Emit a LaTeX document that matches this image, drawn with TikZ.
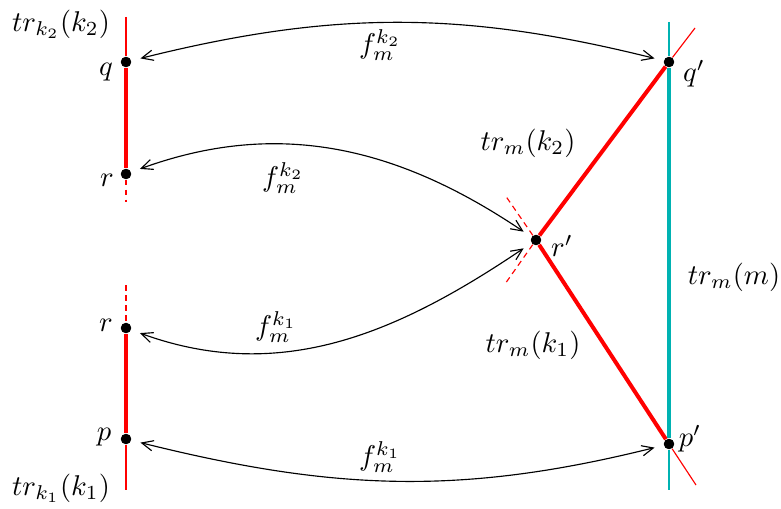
\documentclass[tikz,border=0pt]{standalone}
\usepackage{amsmath,amssymb}
\usepackage{tikz}
\usetikzlibrary{arrows.meta}
\usepackage{xcolor}

\definecolor{trcyan}{RGB}{0,178,178}

\begin{document}
\begin{tikzpicture}[x=0.35pt,y=0.35pt,>={Straight Barb[length=4pt,width=3.6pt]},
		dot/.style={circle,fill=black,inner sep=0pt,minimum size=3.6pt},
		lbl/.style={inner sep=0pt},
		thinred/.style={red,line width=0.4pt},
		thickred/.style={red,line width=1.4pt},
		dashred/.style={red,line width=0.4pt,dash pattern=on 2pt off 1.5pt},
		map/.style={<->,shorten <=3.2pt,shorten >=3.2pt}]
		
		\useasboundingbox (0,0) rectangle (781,508);
		
		% Points
		\node[dot] (q) at (126,446) {};
		\node[dot] (rtop) at (126,334) {};
		\node[dot] (rbot) at (126,180) {};
		\node[dot] (p) at (126,69) {};
		\node[dot] (qp) at (669,446) {};
		\node[dot] (rp) at (536,268) {};
		\node[dot] (pp) at (669,64) {};
		
		% Free ends
		\coordinate (leftTop) at (126,491);
		\coordinate (leftTopDash) at (126,306);
		\coordinate (leftBotDash) at (126,223);
		\coordinate (leftBot) at (126,18);
		\coordinate (cyanTop) at (669,486);
		\coordinate (cyanBot) at (669,18);
		\coordinate (extTop) at (695,480);
		\coordinate (extBot) at (696,23);
		\coordinate (dashUp) at (505,313);
		\coordinate (dashDown) at (505,224);
		
		% Left segments
		\draw[thinred] (leftTop) -- (q);
		\draw[thickred] (q) -- (rtop);
		\draw[dashred] (rtop) -- (leftTopDash);
		\draw[dashred] (leftBotDash) -- (rbot);
		\draw[thickred] (rbot) -- (p);
		\draw[thinred] (p) -- (leftBot);
		
		% Right segments
		\draw[trcyan,line width=0.4pt] (cyanTop) -- (qp);
		\draw[trcyan,line width=1.4pt] (qp) -- (pp);
		\draw[trcyan,line width=0.4pt] (pp) -- (cyanBot);
		\draw[thickred] (rp) -- (qp);
		\draw[thickred] (rp) -- (pp);
		\draw[thinred] (qp) -- (extTop);
		\draw[thinred] (pp) -- (extBot);
		\draw[dashred] (rp) -- (dashUp);
		\draw[dashred] (rp) -- (dashDown);
		
		% Dots on top
		\foreach \pt in {q,rtop,rbot,p,qp,rp,pp}
		\fill (\pt) circle (1.8pt);
		
		% Maps
		\draw[map] (q) to[out=14,in=166] (qp);
		\draw[map] (rtop) to[out=20,in=146] (rp);
		\draw[map] (rbot) to[out=-20,in=-146] (rp);
		\draw[map] (p) to[out=-14,in=-166] (pp);
		
		% Point labels
		\node[lbl] (qlab) at (106,436) {$q$};
		\node[lbl] (rtoplab) at (107,328) {$r$};
		\node[lbl] (rbotlab) at (106,183) {$r$};
		\node[lbl] (plab) at (104,71) {$p$};
		\node[lbl] (qplab) at (694,434) {$q'$};
		\node[lbl] (rplab) at (562,262) {$r'$};
		\node[lbl] (pplab) at (690,69) {$p'$};
		
		% Other labels
		\node[lbl] (trktwo) at (61,484) {$tr_{k_2}(k_2)$};
		\node[lbl] (trkone) at (61,20) {$tr_{k_1}(k_1)$};
		\node[lbl] (fone) at (380,463) {$f_m^{k_2}$};
		\node[lbl] (ftwo) at (283,330) {$f_m^{k_2}$};
		\node[lbl] (fthree) at (276,181) {$f_m^{k_1}$};
		\node[lbl] (ffour) at (380,51) {$f_m^{k_1}$};
		\node[lbl] (trmktwo) at (528,365) {$tr_m(k_2)$};
		\node[lbl] (trmkone) at (533,163) {$tr_m(k_1)$};
		\node[lbl] (trmm) at (734,231) {$tr_m(m)$};
		
	\end{tikzpicture}
\end{document}
